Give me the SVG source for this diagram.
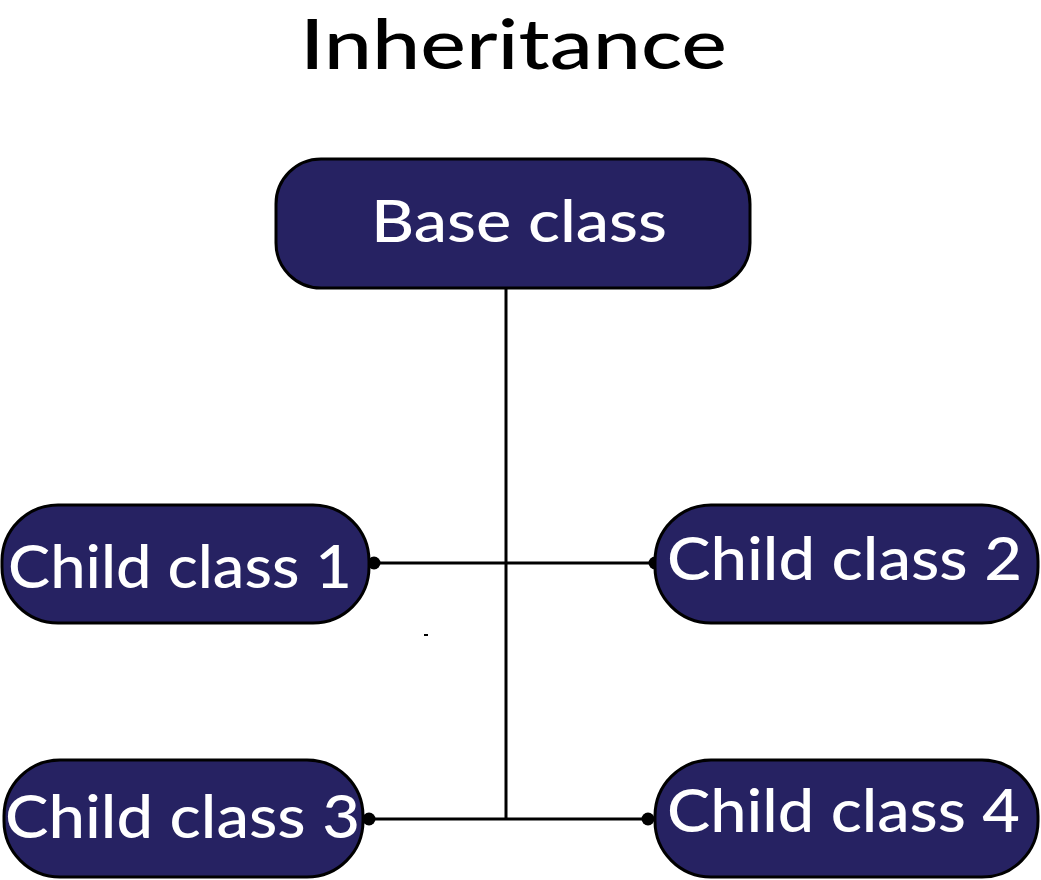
<svg xmlns="http://www.w3.org/2000/svg" width="1041" height="880" viewBox="0 0 1041 880">
<style>
.node{fill:#262262;stroke:#000;stroke-width:3}
.lbl{fill:#fff;font-family:Lato,"Open Sans","Liberation Sans",sans-serif;font-weight:500}
.title{fill:#000;font-family:Lato,"Open Sans","Liberation Sans",sans-serif;font-weight:500}
.wire{stroke:#000;stroke-width:3;fill:none}
.dot{fill:#000}
</style>
<rect width="1041" height="880" fill="#fff"/>
<text class="title" x="300" y="69" font-size="70" textLength="427" lengthAdjust="spacingAndGlyphs">Inheritance</text>
<g id="connectors">
<line class="wire" x1="506" y1="288" x2="506" y2="820"/>
<line class="wire" x1="374" y1="563" x2="655" y2="563"/>
<line class="wire" x1="369" y1="819" x2="648" y2="819"/>
<circle class="dot" cx="374" cy="563" r="6.5"/>
<circle class="dot" cx="655" cy="563" r="6.5"/>
<circle class="dot" cx="369" cy="819" r="6.5"/>
<circle class="dot" cx="648" cy="819" r="6.5"/>
<rect x="424" y="634" width="4" height="2" fill="#000"/>
</g>
<g id="base">
<rect class="node" x="276" y="159" width="474" height="129" rx="45"/>
<text class="lbl" x="371" y="242" font-size="57" textLength="296" lengthAdjust="spacingAndGlyphs">Base class</text>
</g>
<g id="child1">
<rect class="node" x="2" y="505" width="367" height="118" rx="56"/>
<text class="lbl" x="8" y="588" font-size="60" textLength="344" lengthAdjust="spacingAndGlyphs">Child class 1</text>
</g>
<g id="child2">
<rect class="node" x="655" y="505" width="383" height="118" rx="56"/>
<text class="lbl" x="667" y="580" font-size="60" textLength="355" lengthAdjust="spacingAndGlyphs">Child class 2</text>
</g>
<g id="child3">
<rect class="node" x="4" y="760" width="359" height="117" rx="56"/>
<text class="lbl" x="5" y="838" font-size="60" textLength="355" lengthAdjust="spacingAndGlyphs">Child class 3</text>
</g>
<g id="child4">
<rect class="node" x="655" y="760" width="383" height="117" rx="56"/>
<text class="lbl" x="667" y="832" font-size="60" textLength="353" lengthAdjust="spacingAndGlyphs">Child class 4</text>
</g>
</svg>
